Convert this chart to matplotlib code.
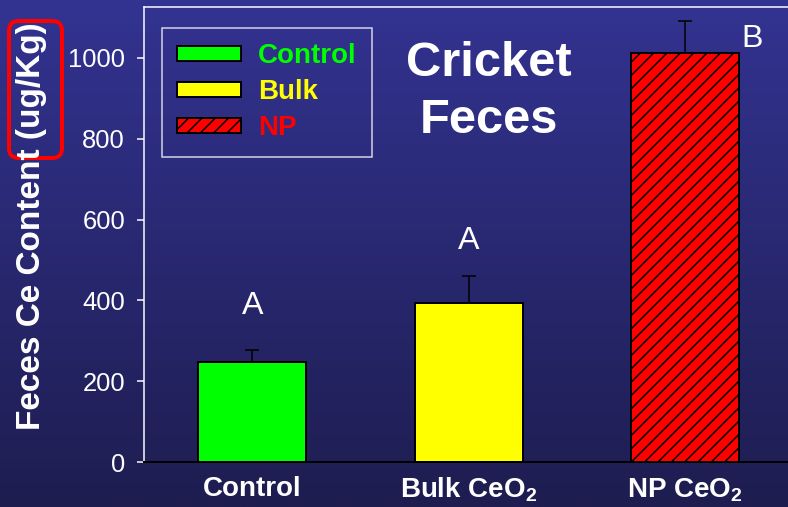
import numpy as np
import matplotlib
matplotlib.use('Agg')
import matplotlib.pyplot as plt
from matplotlib.patches import FancyBboxPatch

# data
groups = ['Control', 'Bulk CeO$_2$', 'NP CeO$_2$']
legend_names = ['Control', 'Bulk', 'NP']
means = [248, 393, 1011]
errors = [29, 67, 80]
letters = ['A', 'A', 'B']
letter_x = [0, 1, 2.31]
letter_y = [386, 548, 1048]
yticks = [0, 200, 400, 600, 800, 1000]

bar_colors = ['#00ff00', '#ffff00', '#ff0000']

DPI = 80
def px(p):
    return p * 72 / DPI  # pixels -> points

plt.rcParams['font.family'] = ['Liberation Sans', 'DejaVu Sans']
plt.rcParams['mathtext.default'] = 'regular'
plt.rcParams['hatch.linewidth'] = px(1.5)
plt.rcParams['hatch.color'] = 'black'

fig = plt.figure(figsize=(788 / DPI, 507 / DPI), dpi=DPI)

# background gradient
bg = fig.add_axes([0, 0, 1, 1], zorder=-10)
top = np.array([51, 51, 146]) / 255
bot = np.array([30, 29, 80]) / 255
t = np.linspace(0, 1, 256)[:, None]
grad = top[None, :] * (1 - t) + bot[None, :] * t
bg.imshow(grad[:, None, :], aspect='auto', extent=[0, 1, 0, 1])
bg.axis('off')

ax = fig.add_axes([144 / 788, 45 / 507, 644 / 788, 455 / 507])
ax.patch.set_visible(False)
x = np.arange(len(groups))
bars = ax.bar(x, means, width=0.5, color=bar_colors, edgecolor='black',
              linewidth=px(2), zorder=3)
bars[2].set_hatch('//')
for b, name in zip(bars, legend_names):
    b.set_label(name)
ax.errorbar(x, means, yerr=[np.zeros(len(means)), errors], fmt='none',
            ecolor='black', elinewidth=px(1.5), capsize=px(7),
            capthick=px(1.5), zorder=2)

ax.set_xlim(-0.5, 2.475)
ax.set_ylim(0, 1126)
ax.set_yticks(yticks)
ax.set_xticks(x)
ax.set_xticklabels(groups, fontsize=25, fontweight='bold', color='white')
ax.tick_params(axis='x', length=0, pad=px(14))
ax.tick_params(axis='y', colors='white', labelsize=23, length=px(7),
               width=px(1.5), pad=px(12))
ax.spines['left'].set_color('white')
ax.spines['left'].set_linewidth(px(1.5))
ax.spines['top'].set_color('white')
ax.spines['top'].set_linewidth(px(1.5))
ax.spines['bottom'].set_color('black')
ax.spines['bottom'].set_linewidth(px(2))
ax.spines['right'].set_visible(False)

for lx, ly, s in zip(letter_x, letter_y, letters):
    ax.text(lx, ly, s, ha='center', va='center', fontsize=29, color='white')

leg = ax.legend(loc='upper left', bbox_to_anchor=((162 - 144) / 644, (462 - 28) / 455),
                borderaxespad=0, fancybox=False, frameon=True,
                prop={'size': 25, 'weight': 'bold'},
                handlelength=2.3, handleheight=0.45, handletextpad=0.6,
                borderpad=0.55, labelspacing=0.36,
                labelcolor=bar_colors)
leg.get_frame().set_facecolor('none')
leg.get_frame().set_edgecolor('white')
leg.get_frame().set_linewidth(px(1.5))

fig.text(489 / 788, 1 - 92 / 507, 'Cricket\nFeces', ha='center', va='center',
         fontsize=44, fontweight='bold', color='white', linespacing=1.33)

fig.text(32 / 788, 1 - 226 / 507, 'Feces Ce Content (ug/Kg)', rotation=90,
         ha='center', va='center', fontsize=30, fontweight='bold', color='white')

box = FancyBboxPatch((9 / DPI, (507 - 158) / DPI), 53 / DPI, 137 / DPI,
                     boxstyle='round,pad=0,rounding_size=0.12',
                     transform=fig.dpi_scale_trans, facecolor='none',
                     edgecolor='#ff0000', linewidth=px(4))
fig.patches.append(box)

fig.savefig('out.png', dpi=DPI)
